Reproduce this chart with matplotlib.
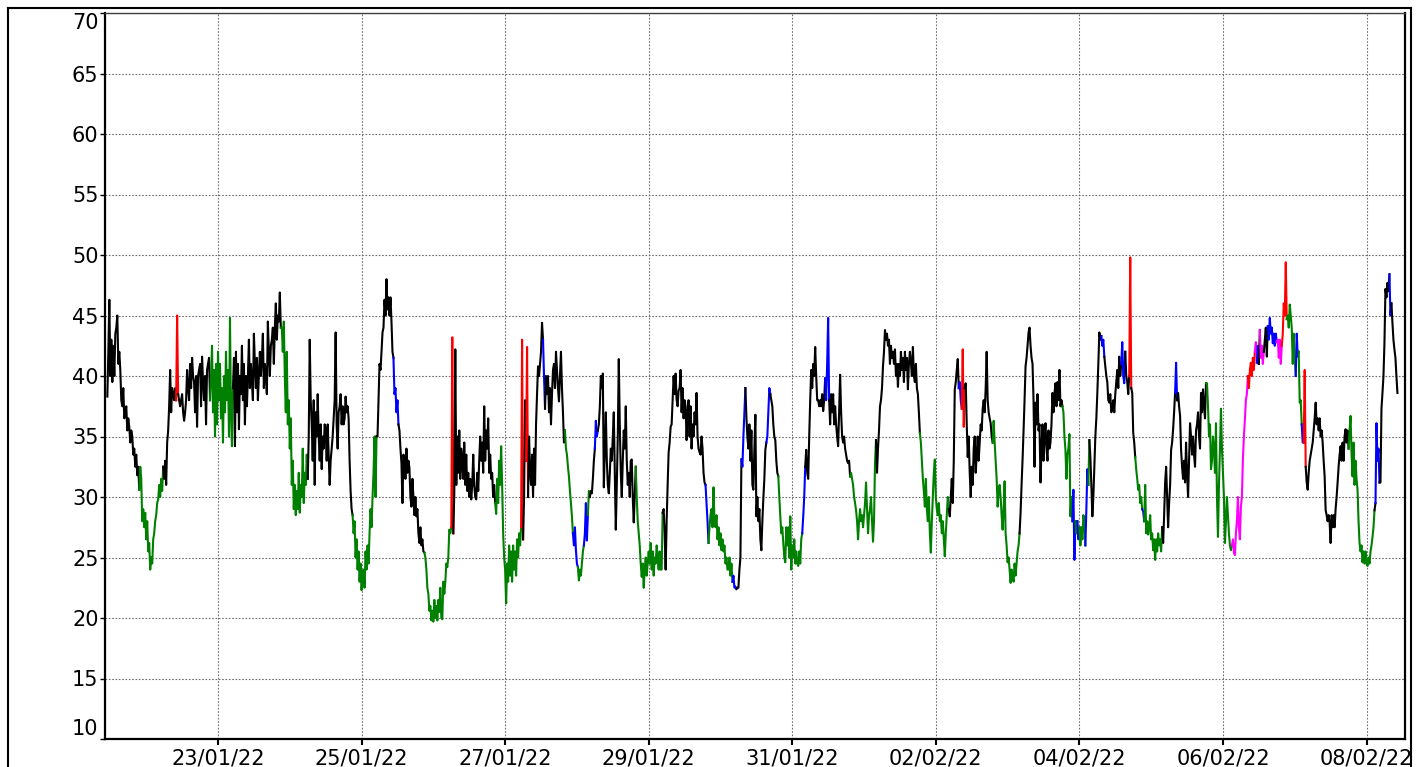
import matplotlib
matplotlib.use("Agg")
import matplotlib.pyplot as plt
import matplotlib.dates as mdates
from matplotlib.lines import Line2D
import numpy as np
from datetime import datetime, timedelta

# series: one reading every 20 minutes from 21/01/22 11:00
start = datetime(2022, 1, 21, 11, 0)
step_min = 20

values = [
    38.3, 42, 46.3, 40, 43, 39.5, 42.5, 40, 43.5, 44,
    45, 41, 42, 40.5, 38, 37.5, 39, 36.5, 37, 37.5,
    35.5, 36.5, 35.8, 34.5, 35.5, 35, 33.5, 34, 32.5, 33.5,
    31.8, 32.5, 30.6, 32.5, 31.5, 28, 29, 27.5, 28.7, 26.5,
    28, 25.5, 26.2, 24, 25, 24.5, 26.5, 27, 28, 28.5,
    29.5, 29.8, 31, 30, 31.5, 30.5, 32.5, 31.5, 33, 31,
    34.5, 35.5, 37.5, 40.5, 37, 39, 38.5, 38, 39, 38,
    45, 38.5, 38, 37.5, 38, 38.5, 37, 36.3, 37, 38,
    40.5, 39, 38, 41, 39, 41.5, 40, 39.5, 37, 40,
    35.8, 40, 40.5, 41, 37.5, 41.6, 39.5, 38, 40, 36,
    40.5, 41, 41.5, 38, 40, 42.5, 37, 40.5, 35, 41,
    36, 42, 38, 41, 36.5, 39, 34.5, 40, 37, 42,
    38, 40.5, 35, 44.8, 37, 34.2, 39, 41.5, 34.2, 42,
    37, 41, 35.6, 40, 38.5, 42.5, 38, 41, 36, 40,
    37.5, 40, 43, 39, 41, 39.5, 38, 43.5, 41, 39,
    41.5, 38, 40, 42, 40, 41.5, 43.5, 39, 41, 40,
    38.5, 44.5, 42, 40, 42.5, 43, 44, 41, 44, 46,
    43, 45, 44.5, 46.9, 44, 44, 42, 44.5, 40, 37,
    42, 36, 38, 34, 36.5, 31, 33, 29, 31, 28.5,
    30.5, 29, 32, 28.7, 31, 30, 34, 29.5, 32, 31,
    33.5, 31.5, 35, 43, 38, 36, 33, 38, 31, 37,
    35, 38.5, 35, 33, 36, 32.3, 35, 34, 36, 35.5,
    33, 36, 33.5, 31, 33, 34, 35, 36.5, 38, 43.6,
    36, 34, 37, 37.5, 38.5, 36, 37.5, 36, 36.5, 38.3,
    37, 37.5, 36.5, 33, 30.5, 29, 28.5, 27, 28, 25,
    26.5, 24, 25.5, 23, 24.5, 22.3, 23.5, 24, 22.5, 25.5,
    24, 26, 24.5, 27, 29, 27.5, 30, 32, 35, 30,
    35, 35, 38, 41, 40.5, 42, 43.6, 44, 46.3, 45,
    48, 45.5, 46.5, 45, 46.5, 44.5, 42, 41.5, 38.5, 39,
    37, 38, 36, 35.5, 34, 32.8, 29.5, 33.5, 33, 31.5,
    34, 32, 33, 32.4, 30, 29.2, 31.5, 30, 28.5, 30,
    28.4, 29, 27, 26.2, 27.5, 26, 26.5, 25.5, 25.4, 25,
    24, 22.5, 22, 20.6, 21, 19.8, 20.6, 19.7, 21.5, 20,
    21, 19.8, 21.5, 20.5, 22.5, 20, 19.9, 23, 22, 23,
    24.5, 24.2, 25, 27.3, 27, 27.5, 43.2, 27, 30.3, 42.2,
    31, 35, 32, 35.5, 31.5, 34, 33, 31.5, 34.5, 31,
    33.5, 30.5, 32, 30, 31.5, 29.8, 31, 33.5, 31, 30,
    29.8, 32, 30.5, 33, 35, 33, 34.5, 32, 37.5, 33,
    35.5, 34, 36.5, 32, 33.5, 31.5, 32, 30, 31, 29.5,
    28.6, 31.5, 29.5, 33, 31, 34.2, 31, 27, 25, 24,
    21.2, 24.5, 23, 26, 23.5, 25.5, 23, 26, 24, 25.5,
    23.5, 26.5, 25, 27, 26, 27.5, 43, 26.5, 30, 38,
    33, 42.4, 30, 35, 32, 31, 33.5, 30, 34, 31,
    36, 38.5, 40.8, 40, 41, 42, 44.4, 43, 40, 37.3,
    40, 38.5, 40, 37, 39, 36, 38.5, 40.5, 41, 39,
    42, 40.5, 39, 37.9, 40, 42, 39, 37, 34.5, 35.5,
    34, 33.5, 32.5, 31.7, 30.5, 29.5, 28.4, 27, 26, 27.5,
    25.6, 24.5, 24.2, 23.1, 24, 23.5, 24.5, 25.5, 26, 27,
    29.5, 26.4, 28.5, 30.5, 30, 30.5, 30.3, 31.5, 33, 34,
    36.3, 35, 35.5, 36, 37.5, 40, 39, 40.2, 30.8, 34,
    37, 33, 31, 30.3, 32, 34, 33, 35, 37, 32,
    27.3, 31, 35, 41.4, 36, 32, 30, 33, 35.5, 34,
    37.5, 33, 31, 32, 30, 33, 33.1, 30, 27.9, 30,
    32.5, 30, 28, 27, 26, 24.5, 23.4, 24.5, 22.5, 24,
    25, 23.5, 24.5, 25.5, 24.5, 26.2, 24, 25.5, 23.5, 25,
    24.5, 26, 25, 24, 25.5, 24, 24, 28.7, 29, 27,
    24, 28, 31, 33.7, 34.5, 35.8, 36, 38, 40, 38.5,
    40.2, 38, 37.5, 38.8, 39, 40.5, 37, 39, 36.5, 38,
    37.5, 34.7, 37, 38, 35, 37.5, 34, 36, 35, 37,
    36, 38.6, 35, 34, 33.7, 33.5, 35, 34, 32, 31.2,
    31, 29.5, 28, 26.2, 27.5, 28.5, 29, 27.5, 30.8, 28,
    27.5, 28.5, 26.5, 27.5, 26, 27, 25.6, 26.5, 25.5, 26,
    24.5, 25, 24, 24, 25, 23.5, 24.5, 23, 23.5, 22.5,
    22.6, 22.4, 22.5, 22.5, 24, 25, 33.1, 32.5, 35, 37,
    39, 36.6, 35, 34, 36, 33, 35.5, 31, 30.6, 34,
    36.8, 28.4, 30, 28, 29, 26.5, 25.6, 28, 29.9, 31.5,
    33.9, 34.5, 35, 37, 39, 38.5, 38, 37.5, 36, 35,
    34.7, 33, 32, 31.7, 30, 28.4, 27, 27.5, 26.2, 25,
    24.6, 27.5, 26, 27.5, 25, 28.4, 24, 26, 25, 26.5,
    24.5, 25.5, 24.5, 24.3, 25.5, 24.5, 26.5, 27, 28.4, 30,
    32.5, 33.9, 32, 31.5, 35, 38, 40.5, 39, 41, 40,
    42.4, 40, 38, 38, 37.5, 38, 37.5, 38.5, 37.1, 38,
    39.8, 38, 41, 44.8, 38, 36, 38.5, 37, 38.5, 36,
    37.5, 36, 35, 34.2, 37, 40.1, 37, 35, 34.5, 35,
    34, 33.5, 33, 32.8, 33, 31.7, 32, 31.5, 31, 30,
    29.5, 28.9, 28, 26.5, 28, 29, 28, 28.5, 27.5, 28.5,
    29.5, 31.2, 29, 27, 28.5, 29, 30, 28, 26.3, 28,
    32.8, 34.7, 32, 34, 35.5, 37.5, 38, 39, 40.8, 42,
    43.8, 43, 43.5, 42.5, 43, 41, 42.5, 41.5, 42, 41,
    42.2, 40, 41, 39.1, 41, 40, 42, 40.5, 41.5, 39.5,
    42, 40.5, 41.5, 38.9, 41, 42, 41.1, 40, 42.4, 40,
    39.5, 41, 39, 38.5, 37, 35.3, 34.5, 33, 31.5, 30.5,
    29.2, 31.5, 29, 28, 30, 27, 25.4, 28, 30, 32,
    33.1, 30, 29, 28.5, 29.5, 28, 28.5, 27, 28, 26.5,
    25.1, 27, 28.5, 30, 29, 28.4, 30, 31.5, 29.5, 33,
    38.9, 39.5, 40.5, 41.4, 39, 39.5, 38, 37.3, 42.2, 35.8,
    39, 39.4, 36, 33.3, 35, 32, 30, 32.5, 31, 34,
    35, 32, 33.5, 35, 33, 34.5, 36, 35.5, 37.3, 38,
    37, 39, 42, 38, 37, 36.5, 36.1, 35, 34.5, 36.3,
    34.5, 33, 31.5, 29.2, 30.5, 31, 30, 28.5, 27.3, 29,
    31.3, 27, 26, 24.6, 25, 24, 22.9, 24, 23.5, 23,
    24.5, 23.5, 24.5, 25.5, 26, 27, 28.7, 31, 33.1, 35.5,
    38, 40.8, 41.5, 42.5, 43.6, 44, 42.5, 41.5, 41, 38,
    32.5, 37.8, 36, 38.5, 35.5, 36, 31.2, 34, 36, 33,
    35, 36.1, 34, 33, 35.5, 34, 34.5, 36, 38.6, 37,
    38.5, 39.4, 37.5, 39.5, 38, 40.5, 37.5, 38, 37.5, 37,
    35, 33.9, 31.5, 33.5, 34, 35.2, 28.4, 30, 28, 30.6,
    24.8, 28, 27, 28, 26.5, 27.5, 26, 27.5, 26.5, 28.5,
    28, 26, 29, 32.3, 31, 34.7, 33.3, 31, 28.4, 30,
    32.5, 35, 36.5, 38.6, 41, 43.6, 43, 43.3, 42.5, 43,
    41.6, 40.8, 40, 39.5, 38, 37.8, 38.5, 37, 37.3, 38,
    37, 38.5, 39.5, 40.5, 39, 41.6, 40, 41, 42.8, 40,
    39.4, 42, 40, 39.5, 38.5, 40, 49.8, 39, 38.6, 35.3,
    34.5, 33.3, 32.3, 31.5, 30.6, 31, 29.5, 30, 29, 28.8,
    28, 31, 27, 28, 26.9, 27.5, 28.5, 26.5, 27, 25.6,
    26.5, 24.8, 26.5, 25.5, 27, 26, 26.5, 25.5, 27.5, 26.2,
    28.5, 31.2, 32.5, 30, 27.5, 29.5, 31, 33.9, 34.5, 35.6,
    37, 38.6, 41.1, 38, 38.6, 37.5, 36.7, 33.9, 32.5, 31.5,
    33, 31.2, 34.5, 32, 30, 33, 36.1, 35, 33.5, 35,
    33.5, 32.5, 35.5, 36, 37, 35, 34, 38.6, 37, 38.9,
    37.5, 36.5, 39.4, 39.4, 37.5, 35, 36, 32.3, 33, 35,
    34, 32, 36.1, 30, 26.7, 31, 34, 37.3, 34, 32,
    30, 26.2, 28, 30, 28.5, 27, 26, 25.6, 26, 26.5,
    25.4, 25.2, 27, 28, 30, 27.5, 26.5, 29.2, 30, 33.1,
    35, 36.4, 38, 38.5, 40, 39, 40.5, 41.1, 40, 41.5,
    40.5, 42, 42.8, 41.1, 42.5, 41, 43.8, 41.5, 42.5, 41,
    42, 43, 44, 41.6, 44.1, 43, 44.8, 43.5, 44, 42.7,
    43.5, 42.5, 43.5, 42.8, 43, 41.5, 43, 41, 42.5, 43.5,
    46, 45, 49.4, 44.7, 45, 44, 45.9, 45, 44, 41,
    43.5, 41.5, 40, 43.5, 41.6, 42, 37.8, 38, 36, 34.5,
    34.5, 40.5, 32.5, 31.2, 30.6, 32, 33, 33.5, 34, 34.5,
    35.5, 36.5, 37.8, 36, 36.5, 35.5, 36.5, 35, 35.5, 34.5,
    33, 31.7, 28.9, 28.5, 28, 28.5, 27.9, 26.2, 28.5, 27.5,
    28.5, 27.5, 29, 30, 31.2, 32.5, 33.5, 34.2, 33, 34.5,
    33, 35, 35.6, 34.5, 35.5, 34, 35.5, 36.7, 33.5, 31.7,
    34.5, 31, 33, 31.5, 30.6, 28, 26.2, 25.5, 26, 24.6,
    25.5, 24.5, 25.5, 24.5, 24.3, 25, 24.5, 25.5, 26, 26.7,
    27.5, 28.9, 29.5, 36.1, 33, 34, 31.2, 31.2, 37.3, 38.6,
    40, 42.8, 47.2, 46.5, 47.7, 47, 48.4, 45, 46, 44.4,
    43, 42.2, 41.5, 40, 38.6,
]

# status code of each reading (k, g, b, r, m)
codes = (
    "kkkkkkkkkk" "kkkkkkkkkk" "kkkkkkkkkk" "kkkggggggg" "gggggggggg"
    "gggggggkkk" "kkkkkkkkkk" "rrkkkkkkkk" "kkkkkkkkkk" "kkkkkkkkkk"
    "kkkkgggggg" "gggggggggg" "gggggggkkk" "kkkkkkkkkk" "kkkkkkkkkk"
    "kkkkkkkkkk" "kkkkkkkkkk" "kkkkkggggg" "gggggggggg" "gggggggggg"
    "ggkkkkkkkk" "kkkkkkkkkk" "kkkkkkkkkk" "kkkkkkkkkk" "kkkkkkkggg"
    "gggggggggg" "gggggggggg" "gkkkkkkkkk" "kkkkkkkkbb" "bbbkkkkkkk"
    "kkkkkkkkkk" "kkkkkkkkkg" "gggggggggg" "gggggggggg" "ggggggrrkk"
    "kkkkkkkkkk" "kkkkkkkkkk" "kkkkkkkkkk" "kkkkkkkkkk" "gggggggggg"
    "gggggggggg" "ggggggrrkk" "krrkkkkkkk" "kkkkkkkkbb" "kkkkkkkkkk"
    "kkkkkkkkkk" "ggggggggbb" "bbbggggggb" "bbbggkkkkk" "bbbkkkkkkk"
    "kkkkkkkkkk" "kkkkkkkkkk" "kkkkkkkkkk" "kggggggggg" "gggggggggg"
    "ggggggggkk" "kkkkkkkkkk" "kkkkkkkkkk" "kkkkkkkkkk" "kkkkkkkkkk"
    "kbbbgggggg" "gggggggggg" "ggggggggbb" "bbkkkkkbbb" "bkkkkkkkkk"
    "kkkkkkkkkk" "kkbbbbkkkk" "kkkkgggggg" "gggggggggg" "ggggggggbb"
    "bkkkkkkkkk" "kkkkkkkkkk" "kbbbbkkkkk" "kkkkkkkkkk" "kkkkkkgggg"
    "gggggggggg" "gggggggggg" "ggkkkkkkkk" "kkkkkkkkkk" "kkkkkkkkkk"
    "kkkkkkkkkk" "kkkkkkgggg" "gggggggggg" "gggggggggg" "gggggkkkkk"
    "kkkkkbbbrr" "rkkkkkkkkk" "kkkkkkkkkk" "kkkkkkkkkg" "gggggggggg"
    "gggggggggg" "ggggggkkkk" "kkkkkkkkkk" "kkkkkkkkkk" "kkkkkkkkkk"
    "kkkkkkkkkg" "gggggggggb" "bbggbbgggg" "ggbbbgkkkk" "kkkkkkkkbb"
    "bkkkkkkkkk" "kkkkkkkkbb" "bbkkkkrrkk" "kkgggggggb" "bggggggggg"
    "gggggggggk" "kkkkkkkkkk" "kkbbkkkkkk" "kkkkkkkkkk" "kkkkkkkkkk"
    "kkkggggggg" "gggggggggg" "gggggggggm" "mmmmmmmmmm" "mmmmmrrrrr"
    "rrmmbbkmmm" "mkkkkbbbbb" "bbbbmmmmmr" "rrrrgggggg" "gggbbbgggb"
    "brrkkkkkkk" "kkkkkkkkkk" "kkkkkkkkkk" "kkkkkkkkkk" "kkkkkkgggg"
    "gggggggggg" "gggggggggg" "ggkbbbbkkk" "kkkkkkkbbk" "kkkkk"
)

palette = {"k": "black", "g": "#008000", "b": "#0000ff",
           "r": "#ff0000", "m": "#ff00ff"}

y_ticks = [10, 15, 20, 25, 30, 35, 40, 45, 50, 55, 60, 65, 70]
x_tick_labels = ["23/01/22", "25/01/22", "27/01/22", "29/01/22", "31/01/22",
                 "02/02/22", "04/02/22", "06/02/22", "08/02/22"]

x_left = datetime(2022, 1, 21, 10, 13)
x_right = datetime(2022, 2, 8, 12, 52)

times = np.array([start + timedelta(minutes=step_min * i) for i in range(len(values))])
vals = np.array(values, dtype=float)

fig = plt.figure(figsize=(14.24, 7.67), dpi=100)
ax = fig.add_axes([105 / 1424, 1 - 739 / 767, 1300 / 1424, 726 / 767])

# draw each run of equal status in its own colour
n = len(vals)
i = 0
while i < n:
    j = i
    while j + 1 < n and codes[j + 1] == codes[i]:
        j += 1
    a = max(i - 1, 0)
    ax.plot(times[a:j + 1], vals[a:j + 1], color=palette[codes[i]], lw=1.5)
    i = j + 1

ax.set_ylim(10, 70)
ax.set_xlim(x_left, x_right)
ax.set_yticks(y_ticks)
ax.set_xticks([datetime.strptime(s, "%d/%m/%y") for s in x_tick_labels])
ax.xaxis.set_major_formatter(mdates.DateFormatter("%d/%m/%y"))

ax.grid(True, color="#707070", lw=0.8, linestyle=(0, (1.5, 1.5)))
ax.tick_params(axis="y", direction="out", length=3.6, width=1, pad=1,
               labelsize=15)
ax.tick_params(axis="x", direction="out", length=4, width=1.5, pad=3,
               labelsize=15)
ylabels = ax.get_yticklabels()
ylabels[0].set_va("bottom")
ylabels[-1].set_va("top")

for side in ["left", "bottom", "right"]:
    ax.spines[side].set_linewidth(1.6)
    ax.spines[side].set_color("black")
ax.spines["top"].set_linewidth(1.0)
ax.spines["top"].set_color("#404040")

# outer frame around the plot
fx0, fx1 = 8 / 1424, 1411 / 1424
fy1 = 1 - 8 / 767
fig.add_artist(Line2D([fx0, fx0], [0, fy1], transform=fig.transFigure, color="black", lw=1.5))
fig.add_artist(Line2D([fx0, fx1], [fy1, fy1], transform=fig.transFigure, color="black", lw=1.5))
fig.add_artist(Line2D([fx1, fx1], [0, fy1], transform=fig.transFigure, color="black", lw=1.5))

fig.savefig("out.png", dpi=100)
